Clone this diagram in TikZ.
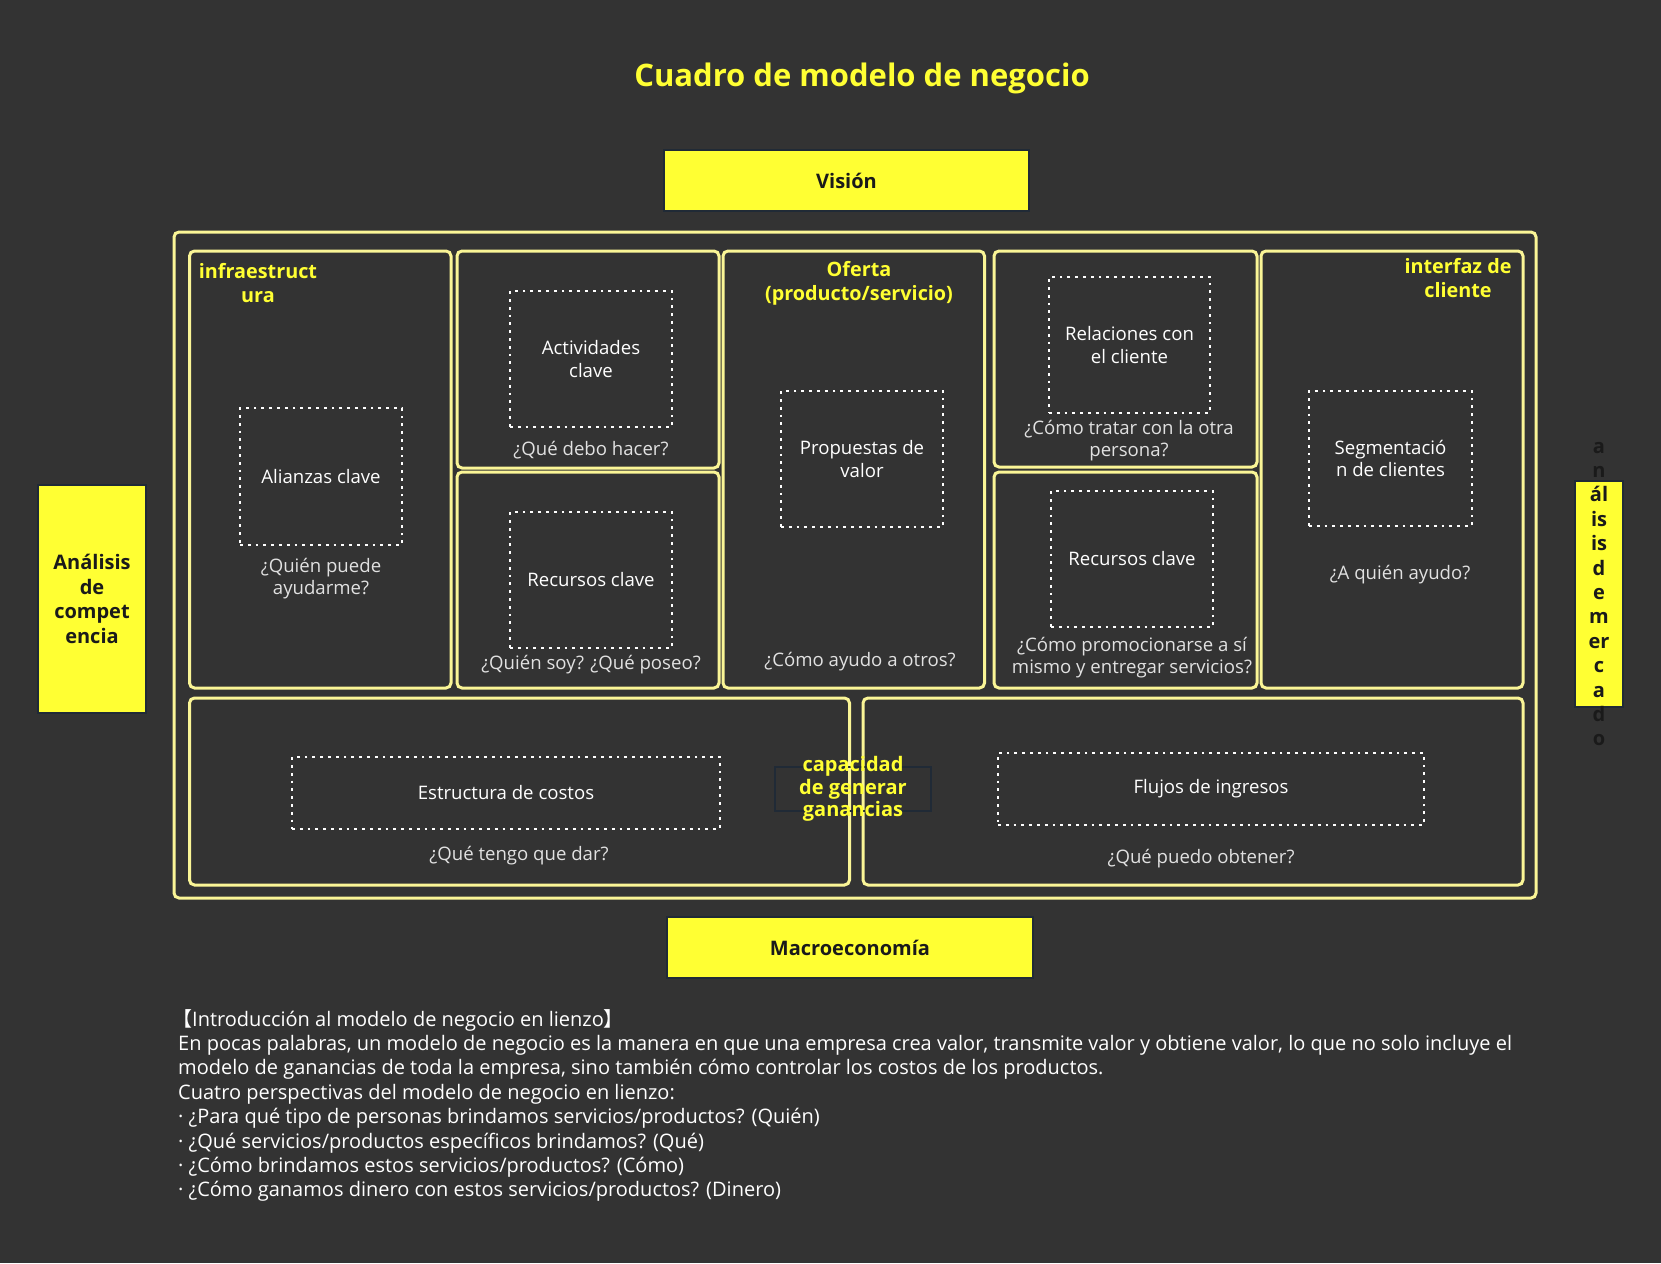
\documentclass[tikz,border=0pt]{standalone}
\usepackage{fontspec}
\setmainfont{Open Sans}
\newfontfamily\cjk{Noto Sans CJK SC}
\usepackage{xcolor}
\definecolor{bgcolor}{RGB}{51, 51, 51}
\definecolor{canvasyellow}{RGB}{255, 255, 51}
\definecolor{cellcolor}{RGB}{250, 245, 150}
\definecolor{edgecolor}{RGB}{32, 42, 54}
\definecolor{askcolor}{RGB}{225, 225, 225}
\definecolor{inkcolor}{RGB}{26, 26, 26}
\usetikzlibrary{positioning, fit, backgrounds}

\begin{document}
\begin{tikzpicture}[
    x=1pt, y=-1pt,
    cell/.style={draw=cellcolor, line width=3pt, rounded corners=5pt, inner sep=0pt},
    dotbox/.style={draw=white, line width=2.8pt, dash pattern=on 2.8pt off 5pt, inner sep=0pt,
        align=center, text=white, font=\fontsize{18.6}{22.5}\selectfont},
    ask/.style={text=askcolor, align=center, font=\fontsize{18.6}{22}\selectfont},
    celltitle/.style={text=canvasyellow, align=center, font=\bfseries\fontsize{19.8}{24}\selectfont},
    sidebox/.style={fill=canvasyellow, draw=edgecolor, line width=2pt, inner sep=0pt},
    sidetext/.style={text=inkcolor, align=center, font=\bfseries\fontsize{20}{24.4}\selectfont}
]
    % Background
    \fill[bgcolor] (0,0) rectangle (1661,1263);

    % Title
    \node[text=canvasyellow, font=\bfseries\fontsize{31}{36}\selectfont] (title) at (862,78) {Cuadro de modelo de negocio};

    % Vision and macroeconomy
    \node[sidebox, sidetext, minimum width=365pt, minimum height=61pt] (vision) at (846.5,180.5) {Visión};
    \node[sidebox, sidetext, minimum width=366pt, minimum height=61pt] (macro) at (850,947.5) {Macroeconomía};

    % Side boxes
    \node[sidebox, sidetext, minimum width=108pt, minimum height=228pt] (competencia) at (92,599) {Análisis\\de\\compet\\encia};
    \node[sidebox, minimum width=48pt, minimum height=226pt] (mercado) at (1599,594) {};
    \node[sidetext] (mercadotext) at (mercado.center) {a\\n\\ál\\is\\is\\d\\e\\m\\er\\c\\a\\d\\o};

    % Canvas frame
    \node[cell, fit={(174,232)(1536,898)}] (canvas) {};

    % Upper cells
    \node[cell, fit={(189.5,251)(451,688)}] (infracell) {};
    \node[cell, fit={(457,251)(719,468)}] (actcell) {};
    \node[cell, fit={(457,472)(719,688)}] (reccell) {};
    \node[cell, fit={(723,251)(984.5,688)}] (ofertacell) {};
    \node[cell, fit={(994,251)(1257,467)}] (relcell) {};
    \node[cell, fit={(994,472)(1257,688)}] (canalcell) {};
    \node[cell, fit={(1261,251)(1523,688)}] (clientcell) {};

    % Lower cells
    \node[cell, fit={(189.5,698)(849.5,885)}] (costcell) {};
    \node[cell, fit={(863,698)(1523,885)}] (incomecell) {};

    % Cell titles
    \node[celltitle] (infra) at (258,283) {infraestruct\\ura};
    \node[celltitle] (oferta) at (859,283) {Oferta\\(producto/servicio)};
    \node[celltitle] (interfaz) at (1458,278) {interfaz de\\cliente};

    % Dotted blocks
    \node[dotbox, minimum width=162pt, minimum height=137pt] (alianzas) at (321,476.5) {Alianzas clave};
    \node[dotbox, minimum width=162pt, minimum height=136pt] (actividades) at (591,359) {Actividades\\clave};
    \node[dotbox, minimum width=162pt, minimum height=136pt] (recursos) at (591,580) {Recursos clave};
    \node[dotbox, minimum width=162pt, minimum height=136pt] (propuestas) at (862,459) {Propuestas de\\valor};
    \node[dotbox, minimum width=161pt, minimum height=136pt] (relaciones) at (1129.5,345) {Relaciones con\\el cliente};
    \node[dotbox, minimum width=162pt, minimum height=136pt] (recursosdos) at (1132,559) {Recursos clave};
    \node[dotbox, minimum width=163pt, minimum height=135pt] (segmentos) at (1390.5,458.5) {Segmentació\\n de clientes};
    \node[dotbox, minimum width=428pt, minimum height=72pt] (costos) at (506,793) {Estructura de costos};
    \node[dotbox, minimum width=426pt, minimum height=72pt] (ingresos) at (1211,789) {Flujos de ingresos};

    % Questions
    \node[ask] (alianzasq) at (321,578.5) {¿Quién puede\\ayudarme?};
    \node[ask] (actividadesq) at (591,450) {¿Qué debo hacer?};
    \node[ask] (recursosq) at (591,665) {¿Quién soy? ¿Qué poseo?};
    \node[ask] (propuestasq) at (860,662) {¿Cómo ayudo a otros?};
    \node[ask] (relacionesq) at (1129,441) {¿Cómo tratar con la otra\\persona?};
    \node[ask] (recursosdosq) at (1132,657.5) {¿Cómo promocionarse a sí\\mismo y entregar servicios?};
    \node[ask] (segmentosq) at (1400,575) {¿A quién ayudo?};
    \node[ask] (costosq) at (519,856) {¿Qué tengo que dar?};
    \node[ask] (ingresosq) at (1201,859) {¿Qué puedo obtener?};

    % Profit capacity
    \node[draw=edgecolor, line width=2pt, minimum width=156pt, minimum height=44pt] (capacidad) at (853,789) {};
    \node[celltitle, font=\bfseries\fontsize{20}{22.5}\selectfont] (capacidadtext) at (capacidad.center) {capacidad\\de generar\\ganancias};

    % Introduction
    \node[anchor=north west, inner sep=0pt, align=left, text=white, font=\fontsize{20}{24.4}\selectfont] (intro) at (178,1009) {%
        \hspace*{-6pt}{\cjk 【}Introducción al modelo de negocio en lienzo{\cjk 】}\\
        En pocas palabras, un modelo de negocio es la manera en que una empresa crea valor, transmite valor y obtiene valor, lo que no solo incluye el\\
        modelo de ganancias de toda la empresa, sino también cómo controlar los costos de los productos.\\
        Cuatro perspectivas del modelo de negocio en lienzo:\\
        · ¿Para qué tipo de personas brindamos servicios/productos? (Quién)\\
        · ¿Qué servicios/productos específicos brindamos? (Qué)\\
        · ¿Cómo brindamos estos servicios/productos? (Cómo)\\
        · ¿Cómo ganamos dinero con estos servicios/productos? (Dinero)};
\end{tikzpicture}
\end{document}
